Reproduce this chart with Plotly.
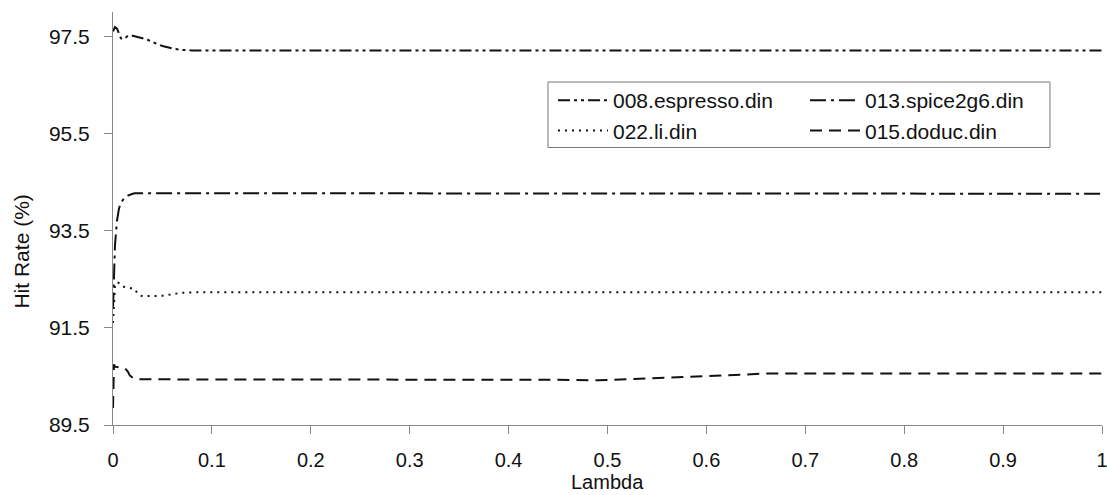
import plotly.graph_objects as go

# Lambda values (x)
lam = [0, 0.001, 0.002, 0.004, 0.006, 0.008, 0.010, 0.012, 0.015, 0.017, 0.020, 0.022,
       0.025, 0.027, 0.030, 0.034, 0.040, 0.050, 0.060, 0.068, 0.080, 0.10, 0.15, 0.20,
       0.25, 0.30, 0.35, 0.40, 0.45, 0.49, 0.52, 0.55, 0.59, 0.62, 0.64, 0.66, 0.70,
       0.75, 0.80, 0.85, 0.90, 0.95, 1.00]

espresso = [97.60, 97.66, 97.69, 97.66, 97.55, 97.46, 97.44, 97.46, 97.51, 97.52, 97.51, 97.50,
            97.49, 97.48, 97.46, 97.44, 97.38, 97.30, 97.25, 97.22, 97.21, 97.21, 97.21, 97.21,
            97.21, 97.21, 97.21, 97.21, 97.21, 97.21, 97.21, 97.21, 97.21, 97.21, 97.21, 97.21, 97.21,
            97.21, 97.21, 97.21, 97.21, 97.21, 97.21]

spice = [91.90, 92.60, 93.20, 93.70, 93.95, 94.08, 94.14, 94.18, 94.22, 94.24, 94.26, 94.27,
         94.27, 94.27, 94.27, 94.27, 94.27, 94.27, 94.27, 94.27, 94.27, 94.27, 94.27, 94.27,
         94.27, 94.27, 94.26, 94.26, 94.26, 94.26, 94.26, 94.26, 94.26, 94.26, 94.26, 94.26, 94.26,
         94.26, 94.26, 94.26, 94.26, 94.26, 94.26]

li = [91.60, 92.00, 92.35, 92.44, 92.42, 92.38, 92.35, 92.34, 92.33, 92.32, 92.31, 92.30,
      92.20, 92.17, 92.15, 92.15, 92.15, 92.16, 92.19, 92.22, 92.23, 92.23, 92.23, 92.23,
      92.23, 92.23, 92.23, 92.23, 92.23, 92.23, 92.23, 92.23, 92.23, 92.23, 92.23, 92.23, 92.23,
      92.23, 92.23, 92.23, 92.23, 92.23, 92.23]

doduc = [89.85, 90.75, 90.70, 90.69, 90.69, 90.68, 90.68, 90.67, 90.60, 90.52, 90.47, 90.45,
         90.44, 90.44, 90.44, 90.44, 90.44, 90.44, 90.44, 90.44, 90.44, 90.44, 90.44, 90.44,
         90.44, 90.43, 90.43, 90.43, 90.43, 90.42, 90.44, 90.46, 90.50, 90.52, 90.54, 90.56, 90.56,
         90.56, 90.56, 90.56, 90.56, 90.56, 90.56]

series_names = ["008.espresso.din", "013.spice2g6.din", "022.li.din", "015.doduc.din"]
series_vals = [espresso, spice, li, doduc]
dashes = ["12px,4px,3px,4px,3px,4px", "16px,5px,3px,5px", "2px,5px", "12px,7px"]
legend_cols = ["legend", "legend2", "legend", "legend2"]

x_ticks = [0, 0.1, 0.2, 0.3, 0.4, 0.5, 0.6, 0.7, 0.8, 0.9, 1]
x_ticktext = ["0", "0.1", "0.2", "0.3", "0.4", "0.5", "0.6", "0.7", "0.8", "0.9", "1"]
y_ticks = [89.5, 91.5, 93.5, 95.5, 97.5]

FONT = "Liberation Sans, Arial, sans-serif"

fig = go.Figure()
for name, vals, d, lg in zip(series_names, series_vals, dashes, legend_cols):
    fig.add_trace(go.Scatter(x=lam, y=vals, mode="lines", name=name, legend=lg,
                             line=dict(color="#111111", width=2, dash=d),
                             cliponaxis=False))

leg_common = dict(orientation="v", yanchor="top", xanchor="left", y=0.835,
                  bgcolor="rgba(0,0,0,0)", borderwidth=0,
                  font=dict(size=21, family=FONT, color="#111111"),
                  itemwidth=50, tracegroupgap=0)

fig.update_layout(
    width=1107, height=495,
    margin=dict(l=113, r=5, t=12, b=70, autoexpand=False),
    paper_bgcolor="white", plot_bgcolor="white",
    font=dict(family=FONT, size=21, color="#111111"),
    showlegend=True,
    legend=dict(x=0.4449, **leg_common),
    legend2=dict(x=0.6997, **leg_common),
    xaxis=dict(range=[0, 1], tickvals=x_ticks, ticktext=x_ticktext,
               showgrid=False, zeroline=False, showline=True, linecolor="#888888",
               linewidth=1, ticks="outside", ticklen=8, tickcolor="#888888",
               ticklabelstandoff=9, ticklabeloverflow="allow",
               tickfont=dict(size=20)),
    yaxis=dict(range=[89.5, 98.0], tickvals=y_ticks, ticktext=[f"{v}" for v in y_ticks],
               showgrid=False, zeroline=False, showline=True, linecolor="#888888",
               linewidth=1, ticks="outside", ticklen=8, tickcolor="#888888",
               ticklabelstandoff=10),
    shapes=[dict(type="rect", xref="paper", yref="paper",
                 x0=0.4398, x1=0.9474, y0=0.672, y1=0.8305,
                 fillcolor="white", line=dict(color="#777777", width=1), layer="above")],
    annotations=[
        dict(text="Hit Rate (%)", textangle=-90, xref="paper", yref="paper",
             x=-0.092, y=0.42, xanchor="center", yanchor="middle",
             showarrow=False, font=dict(size=21)),
        dict(text="Lambda", xref="paper", yref="paper",
             x=0.5, y=-0.166, xanchor="center", yanchor="bottom", borderpad=0,
             showarrow=False, font=dict(size=20)),
    ],
)

fig.write_html("out.html")
